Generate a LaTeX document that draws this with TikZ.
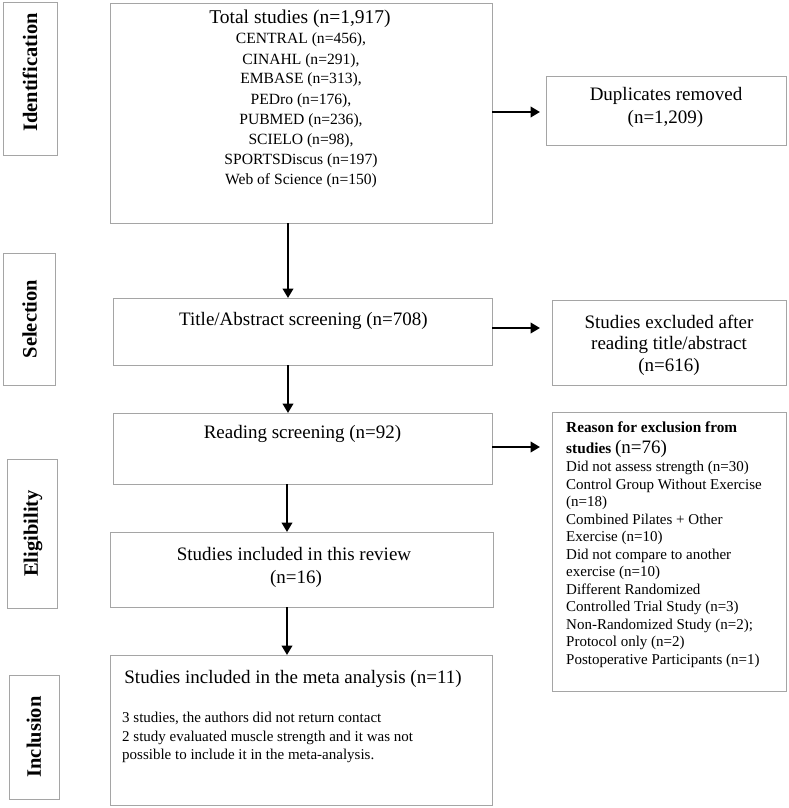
\documentclass[tikz,border=0pt]{standalone}
\usepackage{fontspec}
\setmainfont{Liberation Serif}
\usetikzlibrary{arrows.meta}
\definecolor{boxgray}{RGB}{165,165,165}
\tikzset{
  boxnode/.style={draw=boxgray, line width=1pt, anchor=north west, inner sep=0pt, outer sep=0pt},
  arr/.style={line width=2.5pt, -{Triangle[length=9.5pt,width=10.5pt]}},
  big/.style={font=\fontsize{19}{23}\selectfont, inner sep=0pt, anchor=base},
  mid/.style={font=\fontsize{15.6}{20}\selectfont, inner sep=0pt, anchor=base},
  small/.style={font=\fontsize{15}{17.5}\selectfont, inner sep=0pt, anchor=base west},
  lab/.style={font=\fontsize{20.5}{24}\selectfont\bfseries, rotate=90, inner sep=0pt, anchor=center},
}
\begin{document}
\begin{tikzpicture}[x=1pt,y=-1pt]
\useasboundingbox (0,0) rectangle (789,808);
\fill[white] (0,0) rectangle (789,808);

% stage labels
\node[boxnode, minimum width=54pt, minimum height=152pt] (idbox) at (3,3) {};
\node[boxnode, minimum width=52pt, minimum height=132pt] (selbox) at (3,253) {};
\node[boxnode, minimum width=50pt, minimum height=149pt] (elibox) at (7,459) {};
\node[boxnode, minimum width=50pt, minimum height=124pt] (incbox) at (9,675) {};
\node[lab] (idtxt) at (30,72.5) {Identification};
\node[lab] (seltxt) at (29.5,319) {Selection};
\node[lab] (elitxt) at (33,533.5) {Eligibility};
\node[lab] (inctxt) at (34,737) {Inclusion};

% main column boxes
\node[boxnode, minimum width=382pt, minimum height=219pt] (total) at (110,4) {};
\node[boxnode, minimum width=379pt, minimum height=67pt] (title) at (113,298) {};
\node[boxnode, minimum width=379pt, minimum height=71pt] (reading) at (113,413) {};
\node[boxnode, minimum width=383pt, minimum height=75pt] (incl16) at (110,532) {};
\node[boxnode, minimum width=382pt, minimum height=150pt] (meta) at (110,655) {};

% right column boxes
\node[boxnode, minimum width=240pt, minimum height=69pt] (dup) at (546,76) {};
\node[boxnode, minimum width=234pt, minimum height=85pt] (excl) at (552,300) {};
\node[boxnode, minimum width=234pt, minimum height=279pt] (reason) at (552,412) {};

% texts: total
\node[big, font=\fontsize{19.5}{23}\selectfont] (t0) at (300,24) {Total studies (n=1,917)};
\node[mid] (t1) at (301,44) {CENTRAL (n=456),};
\node[mid] (t2) at (301,64) {CINAHL (n=291),};
\node[mid] (t3) at (301,84) {EMBASE (n=313),};
\node[mid] (t4) at (301,104) {PEDro (n=176),};
\node[mid] (t5) at (301,124) {PUBMED (n=236),};
\node[mid] (t6) at (301,144) {SCIELO (n=98),};
\node[mid] (t7) at (301,164) {SPORTSDiscus (n=197)};
\node[mid] (t8) at (301,184) {Web of Science (n=150)};

\node[big] (titletxt) at (303.5,325) {Title/Abstract screening (n=708)};
\node[big] (readtxt) at (302.5,438) {Reading screening (n=92)};
\node[big] (inc1) at (294,560) {Studies included in this review};
\node[big] (inc2) at (296,583) {(n=16)};
\node[big] (meta1) at (293,683) {Studies included in the meta analysis (n=11)};
\node[small] (meta2) at (122,722.5) {3 studies, the authors did not return contact};
\node[small] (meta3) at (122,741) {2 study evaluated muscle strength and it was not};
\node[small] (meta4) at (122,759.5) {possible to include it in the meta-analysis.};

\node[big] (dup1) at (666,100) {Duplicates removed};
\node[big] (dup2) at (665.5,123) {(n=1,209)};
\node[big] (ex1) at (669,328) {Studies excluded after};
\node[big] (ex2) at (669,349) {reading title/abstract};
\node[big] (ex3) at (669,371) {(n=616)};

\node[small, font=\fontsize{15.3}{17.5}\selectfont\bfseries] (rh1) at (566,432.5) {Reason for exclusion from};
\node[small] (rh2) at (566,453) {\fontsize{15.3}{17.5}\selectfont\bfseries studies \fontsize{19}{23}\selectfont\mdseries(n=76)};
\node[small] (r1) at (566,471.5) {Did not assess strength (n=30)};
\node[small] (r2) at (566,489) {Control Group Without Exercise};
\node[small] (r3) at (566,506.5) {(n=18)};
\node[small] (r4) at (566,524) {Combined Pilates + Other};
\node[small] (r5) at (566,541.5) {Exercise (n=10)};
\node[small] (r6) at (566,559) {Did not compare to another};
\node[small] (r7) at (566,576.5) {exercise (n=10)};
\node[small] (r8) at (566,594) {Different Randomized};
\node[small] (r9) at (566,611.5) {Controlled Trial Study (n=3)};
\node[small] (r10) at (566,629) {Non-Randomized Study (n=2);};
\node[small] (r11) at (566,646.5) {Protocol only (n=2)};
\node[small] (r12) at (566,664) {Postoperative Participants (n=1)};

% vertical arrows
\coordinate (ax) at (288,0);
\coordinate (bx) at (287,0);
\draw[arr] (ax |- total.south) -- (ax |- title.north);
\draw[arr] (ax |- title.south) -- (ax |- reading.north);
\draw[arr] (bx |- reading.south) -- (bx |- incl16.north);
\draw[arr] (bx |- incl16.south) -- (bx |- meta.north);

% horizontal arrows
\coordinate (h1) at (540,112);
\coordinate (h2) at (540,328);
\coordinate (h3) at (540,447);
\draw[arr] (total.east |- h1) -- (h1);
\draw[arr] (title.east |- h2) -- (h2);
\draw[arr] (reading.east |- h3) -- (h3);
\end{tikzpicture}
\end{document}
